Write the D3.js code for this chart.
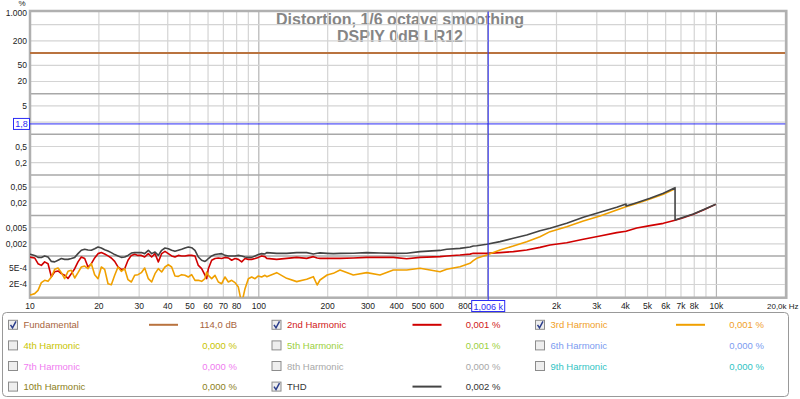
<!DOCTYPE html>
<html lang="en">
<head>
<meta charset="utf-8">
<script src="https://d3js.org/d3.v7.min.js"></script>
<style>
  body { margin: 0; background: #fff; }
  svg text { font-family: "Liberation Sans", Arial, sans-serif; }
</style>
</head>
<body>
<script>
// frequencies (Hz) shared by the harmonic curves; duplicates mark the steps
const freqs = [10, 10.13, 10.48, 10.84, 11.21, 11.59, 11.99, 12.4, 12.82, 13.26, 13.71, 14.17, 14.66, 15.16, 15.68, 16.21, 16.76, 17.34, 17.93, 18.54,
  19.17, 19.83, 20.5, 21.2, 21.93, 22.67, 23.45, 24.24, 25.07, 25.93, 26.81, 27.73, 28.67, 29.65, 30.66, 31.71, 32.9, 34.02, 35.18, 36.38,
  37.62, 38.9, 40.23, 41.6, 43.02, 44.49, 46.01, 47.57, 49.2, 50.88, 52.61, 54.41, 56.26, 58.18, 59.17, 60.17, 62.23, 64.35, 66.55, 68.82,
  71.17, 73.6, 76.11, 78.71, 81.39, 84.17, 87.04, 90.01, 93.08, 96.26, 99.52, 102.9, 106.4, 108.3, 119.7, 132.4, 146.4, 161.9, 173.1, 179.9,
  185.1, 198.8, 211.7, 226.4, 258.8, 296.2, 338.6, 387, 443, 506.4, 619.4, 662.6, 757.5, 837.6, 865.9, 896, 991.1, 1133, 1295, 1482,
  1694, 1874, 2216, 2620, 3099, 3667, 4026, 4026, 4484, 5126, 5861, 6595, 6595, 7168, 7927, 8765, 9929];

// THD, %
const thd = [0.00111, 0.00109, 0.00104, 0.00093, 0.00092, 0.00101, 0.00095, 0.00074, 0.00072, 0.00079, 0.00087, 0.00083, 0.00083, 0.00087, 0.00093, 0.00115, 0.00139, 0.00147, 0.00141, 0.00139,
  0.00152, 0.00168, 0.00158, 0.00144, 0.00134, 0.00122, 0.00109, 0.00101, 0.00093, 0.00095, 0.00104, 0.00119, 0.00122, 0.00122, 0.00122, 0.00115, 0.00139, 0.00115, 0.00126, 0.00104,
  0.00139, 0.00158, 0.00152, 0.00139, 0.00131, 0.00139, 0.00147, 0.00158, 0.00168, 0.00161, 0.00139, 0.00095, 0.00079, 0.00074, 0.00079, 0.00087, 0.00101, 0.00109, 0.00113, 0.00115,
  0.00104, 0.00101, 0.00101, 0.00101, 0.00104, 0.00101, 0.00095, 0.00093, 0.00093, 0.00101, 0.00109, 0.00115, 0.00113, 0.00122, 0.00117, 0.00117, 0.00122, 0.00122, 0.00113, 0.00117,
  0.0012, 0.00117, 0.00115, 0.00117, 0.00118, 0.00122, 0.00119, 0.00117, 0.00118, 0.00129, 0.00138, 0.00147, 0.00155, 0.00167, 0.00177, 0.0018, 0.00195, 0.00227, 0.00274, 0.00331,
  0.00423, 0.00483, 0.00641, 0.00901, 0.012, 0.0159, 0.0192, 0.0171, 0.0207, 0.0265, 0.0352, 0.0485, 0.00775, 0.00901, 0.0109, 0.0139, 0.019];

// 2nd harmonic, %
const h2 = [0.00095, 0.00093, 0.0009, 0.00065, 0.00059, 0.00072, 0.00065, 0.00031, 0.00041, 0.00043, 0.00037, 0.00034, 0.00028, 0.00037, 0.00049, 0.00072, 0.00095, 0.00087, 0.00054, 0.00065,
  0.0009, 0.00115, 0.00122, 0.00113, 0.00101, 0.0009, 0.00074, 0.00054, 0.00047, 0.00049, 0.00079, 0.00104, 0.00111, 0.00104, 0.00104, 0.00095, 0.00115, 0.00095, 0.00115, 0.00072,
  0.00115, 0.00131, 0.00115, 0.00101, 0.00095, 0.00104, 0.00101, 0.00101, 0.00104, 0.00104, 0.00101, 0.00059, 0.00049, 0.00034, 0.00028, 0.00049, 0.00079, 0.00087, 0.0009, 0.00087,
  0.00093, 0.0009, 0.00079, 0.00087, 0.00083, 0.00072, 0.00087, 0.00083, 0.00083, 0.00087, 0.00093, 0.00101, 0.00097, 0.00088, 0.00083, 0.00088, 0.00093, 0.00088, 0.00097, 0.0009,
  0.00088, 0.00088, 0.00088, 0.00088, 0.0009, 0.00093, 0.00093, 0.00093, 0.00086, 0.00093, 0.00097, 0.00101, 0.00106, 0.00112, 0.00117, 0.00117, 0.00117, 0.00122, 0.00129, 0.00141,
  0.00164, 0.00188, 0.00214, 0.00259, 0.00313, 0.00378, 0.0041, 0.0041, 0.0049, 0.00562, 0.00641, 0.0076, 0.0076, 0.00884, 0.0107, 0.0137, 0.0188];

// 3rd harmonic, % (ends at 20 kHz / 3)
const h3 = [0.000112, 0.000112, 0.000119, 0.000143, 0.000222, 0.000253, 0.000239, 0.000306, 0.000472, 0.000509, 0.000391, 0.000278, 0.000421, 0.000446, 0.000289, 0.000391, 0.000539, 0.00057, 0.00049, 0.000651,
  0.000349, 0.000278, 0.000539, 0.000472, 0.000209, 0.000198, 0.000336, 0.000539, 0.000421, 0.00049, 0.000263, 0.00023, 0.000336, 0.000349, 0.000391, 0.000509, 0.000278, 0.00023, 0.000369, 0.00049,
  0.000406, 0.000539, 0.000615, 0.000539, 0.000324, 0.000317, 0.000349, 0.000336, 0.000306, 0.000349, 0.000253, 0.000253, 0.000239, 0.000278, 0.000406, 0.000336, 0.000278, 0.000336, 0.00023, 0.000209,
  0.000306, 0.00023, 0.000253, 0.000222, 0.000173, 0.0000674, 0.000158, 0.000278, 0.000306, 0.000278, 0.000324, 0.000306, 0.000336, 0.000311, 0.000391, 0.000283, 0.000235, 0.00027, 0.000311, 0.000194,
  0.000258, 0.000342, 0.000376, 0.000455, 0.000342, 0.000391, 0.000342, 0.000455, 0.000455, 0.0005, 0.000413, 0.000472, 0.000549, 0.000664, 0.00077, 0.000881, 0.00106, 0.00141, 0.00177, 0.00227,
  0.00301, 0.004, 0.00531, 0.00732, 0.00972, 0.0137, 0.0165, 0.0165, 0.0199, 0.0255, 0.0332, 0.0458, null, null, null, null, null];

const fundFreqs = [10, 20000];
const fundamental = [100, 100];

// tick labels that stay visible (the 2 % and 1 kHz ones sit under the cursor boxes)
const yTicks = [1000, 200, 50, 20, 5, 0.5, 0.2, 0.05, 0.02, 0.005, 0.002, 0.0005, 0.0002];
const yTickLabels = ["1.000", "200", "50", "20", "5", "0,5", "0,2", "0,05", "0,02", "0,005", "0,002", "5E-4", "2E-4"];
const xTicks = [10, 20, 30, 40, 50, 60, 70, 80, 100, 200, 300, 400, 500, 600, 800, 2000, 3000, 4000, 5000, 6000, 7000, 8000, 10000];
const xTickLabels = ["10", "20", "30", "40", "50", "60", "70", "80", "100", "200", "300", "400", "500", "600", "800", "2k", "3k", "4k", "5k", "6k", "7k", "8k", "10k"];

const legendNames = ["Fundamental", "2nd Harmonic", "3rd Harmonic", "4th Harmonic", "5th Harmonic", "6th Harmonic",
  "7th Harmonic", "8th Harmonic", "9th Harmonic", "10th Harmonic", "THD"];
const legendValues = ["114,0 dB", "0,001 %", "0,001 %", "0,000 %", "0,001 %", "0,000 %", "0,000 %", "0,000 %", "0,000 %", "0,000 %", "0,002 %"];
const legendChecked = [true, true, true, false, false, false, false, false, false, false, true];
const legendColors = ["#b9733f", "#d00000", "#f0a000", "#c8c400", "#9cd040", "#7b9bf0", "#f07cf0", "#b0b0b0", "#30c4c4", "#9a8c20", "#444444"];
const legendText = ["#a8643c", "#d01818", "#f0a028", "#c8c400", "#9cd040", "#7b9bf0", "#f07cf0", "#a8a8a8", "#30c4c4", "#8c8020", "#333333"];

const cursorFreq = 1006, cursorValue = 1.8;

const W = 800, H = 399;
const pl = 30, pr = 785.3, pt = 12.5, pb = 296.7;

const svg = d3.select("body").append("svg").attr("width", W).attr("height", H);

const x = d3.scaleLog().domain([10, 20000]).range([pl, pr]);
const y = d3.scaleLog().domain([1e-4, 1000]).range([pb, pt]);

// title sits under the grid
svg.append("text").attr("x", 400).attr("y", 25).attr("text-anchor", "middle")
  .attr("font-size", 16).attr("font-weight", "bold").attr("fill", "#858585")
  .text("Distortion, 1/6 octave smoothing");
svg.append("text").attr("x", 400).attr("y", 41.5).attr("text-anchor", "middle")
  .attr("font-size", 16).attr("font-weight", "bold").attr("fill", "#858585")
  .text("DSPIY 0dB LR12");

// grid
const grid = svg.append("g");
const vLines = [];
[10, 100, 1000, 10000].forEach(d => { for (let m = 1; m < 10; m++) if (d * m <= 20000) vLines.push({ f: d * m, major: m === 1 }); });
grid.selectAll("line.v").data(vLines).enter().append("line")
  .attr("x1", d => x(d.f)).attr("x2", d => x(d.f))
  .attr("y1", pt - 2).attr("y2", pb + 1)
  .attr("stroke", d => d.major ? "#b4b4b4" : "#d4d4d4").attr("stroke-width", 1.2);
const hLines = [];
[1e-4, 1e-3, 1e-2, 0.1, 1, 10, 100].forEach(d => { [1, 2, 5].forEach(m => hLines.push({ v: d * m, major: m === 1 })); });
grid.selectAll("line.h").data(hLines.filter(d => d.v > 1e-4)).enter().append("line")
  .attr("x1", pl).attr("x2", pr + 1)
  .attr("y1", d => y(d.v)).attr("y2", d => y(d.v))
  .attr("stroke", d => d.major ? "#a8a8a8" : "#d4d4d4").attr("stroke-width", d => d.major ? 1.5 : 1.2);

// frame
svg.append("rect").attr("x", pl).attr("y", pt - 1.5).attr("width", pr - pl + 1).attr("height", pb - pt + 2.5)
  .attr("fill", "none").attr("stroke", "#b0b0b0").attr("stroke-width", 2.5);

// curves
svg.append("clipPath").attr("id", "plot").append("rect")
  .attr("x", pl).attr("y", pt).attr("width", pr - pl).attr("height", pb - pt + 0.5);
const curves = svg.append("g").attr("clip-path", "url(#plot)");

const line = d3.line().defined(d => d[1] != null).x(d => x(d[0])).y(d => y(d[1]));
function draw(fs, vs, color, w) {
  curves.append("path").datum(fs.map((f, i) => [f, vs[i]]))
    .attr("d", line).attr("fill", "none").attr("stroke", color)
    .attr("stroke-width", w).attr("stroke-linejoin", "round");
}
draw(fundFreqs, fundamental, legendColors[0], 2);
draw(freqs, h2, legendColors[1], 1.6);
draw(freqs, h3, legendColors[2], 1.6);
draw(freqs, thd, legendColors[10], 1.6);

// axis labels
svg.append("g").selectAll("text").data(yTicks).enter().append("text")
  .attr("x", 27).attr("y", d => y(d) + 3).attr("text-anchor", "end")
  .attr("font-size", 8.5).attr("fill", "#222")
  .text((d, i) => yTickLabels[i]);
svg.append("text").attr("x", 22).attr("y", 6).attr("text-anchor", "middle")
  .attr("font-size", 8).attr("fill", "#222").text("%");
svg.append("g").selectAll("text").data(xTicks).enter().append("text")
  .attr("x", d => x(d)).attr("y", 308.5).attr("text-anchor", "middle")
  .attr("font-size", 8.5).attr("fill", "#222")
  .text((d, i) => xTickLabels[i]);
svg.append("text").attr("x", 767).attr("y", 308.5)
  .attr("font-size", 8).attr("fill", "#222").text("20,0k Hz");

// cursor
const blue = "#2b2bf5";
const cx = x(cursorFreq), cy = y(cursorValue);
svg.append("line").attr("x1", pl).attr("x2", pr).attr("y1", cy).attr("y2", cy).attr("stroke", blue).attr("stroke-width", 1);
svg.append("line").attr("x1", cx).attr("x2", cx).attr("y1", pt - 1).attr("y2", 301).attr("stroke", blue).attr("stroke-width", 1);
svg.append("rect").attr("x", 13.5).attr("y", cy - 5.5).attr("width", 16).attr("height", 11)
  .attr("fill", "#fff").attr("stroke", blue);
svg.append("text").attr("x", 21.5).attr("y", cy + 3.5).attr("text-anchor", "middle")
  .attr("font-size", 9).attr("fill", blue).text("1,8");
svg.append("rect").attr("x", cx - 16.5).attr("y", 300.5).attr("width", 33).attr("height", 11)
  .attr("fill", "#fff").attr("stroke", blue);
svg.append("text").attr("x", cx).attr("y", 309.5).attr("text-anchor", "middle")
  .attr("font-size", 9).attr("fill", blue).text("1,006 k");

// legend
svg.append("rect").attr("x", 2.5).attr("y", 312.5).attr("width", 786).attr("height", 84).attr("rx", 4)
  .attr("fill", "#fff").attr("stroke", "#999");
const colW = 263.5;
const items = svg.append("g").selectAll("g").data(legendNames).enter().append("g")
  .attr("transform", (d, i) => "translate(" + (i % 3) * colW + "," + (324.8 + Math.floor(i / 3) * 20.6) + ")");
items.append("rect").attr("x", 8.5).attr("y", -4.5).attr("width", 9).attr("height", 9)
  .attr("fill", "#eeeeee").attr("stroke", "#8c8c8c");
items.filter((d, i) => legendChecked[i]).append("path")
  .attr("d", "M10.5,0 L12.5,3 L16,-3.5").attr("fill", "none")
  .attr("stroke", "#2c3e8c").attr("stroke-width", 1.5);
items.append("text").attr("x", 23.5).attr("y", 3.5).attr("font-size", 9.5)
  .attr("fill", (d, i) => legendText[i]).text(d => d);
items.filter((d, i) => legendChecked[i]).append("line")
  .attr("x1", 149).attr("x2", 178).attr("y1", 0).attr("y2", 0)
  .attr("stroke", d => legendColors[legendNames.indexOf(d)]).attr("stroke-width", 2);
items.append("text").attr("x", 237).attr("y", 3.5).attr("text-anchor", "end").attr("font-size", 9.5)
  .attr("fill", (d, i) => legendText[i]).text((d, i) => legendValues[i]);
</script>
</body>
</html>
